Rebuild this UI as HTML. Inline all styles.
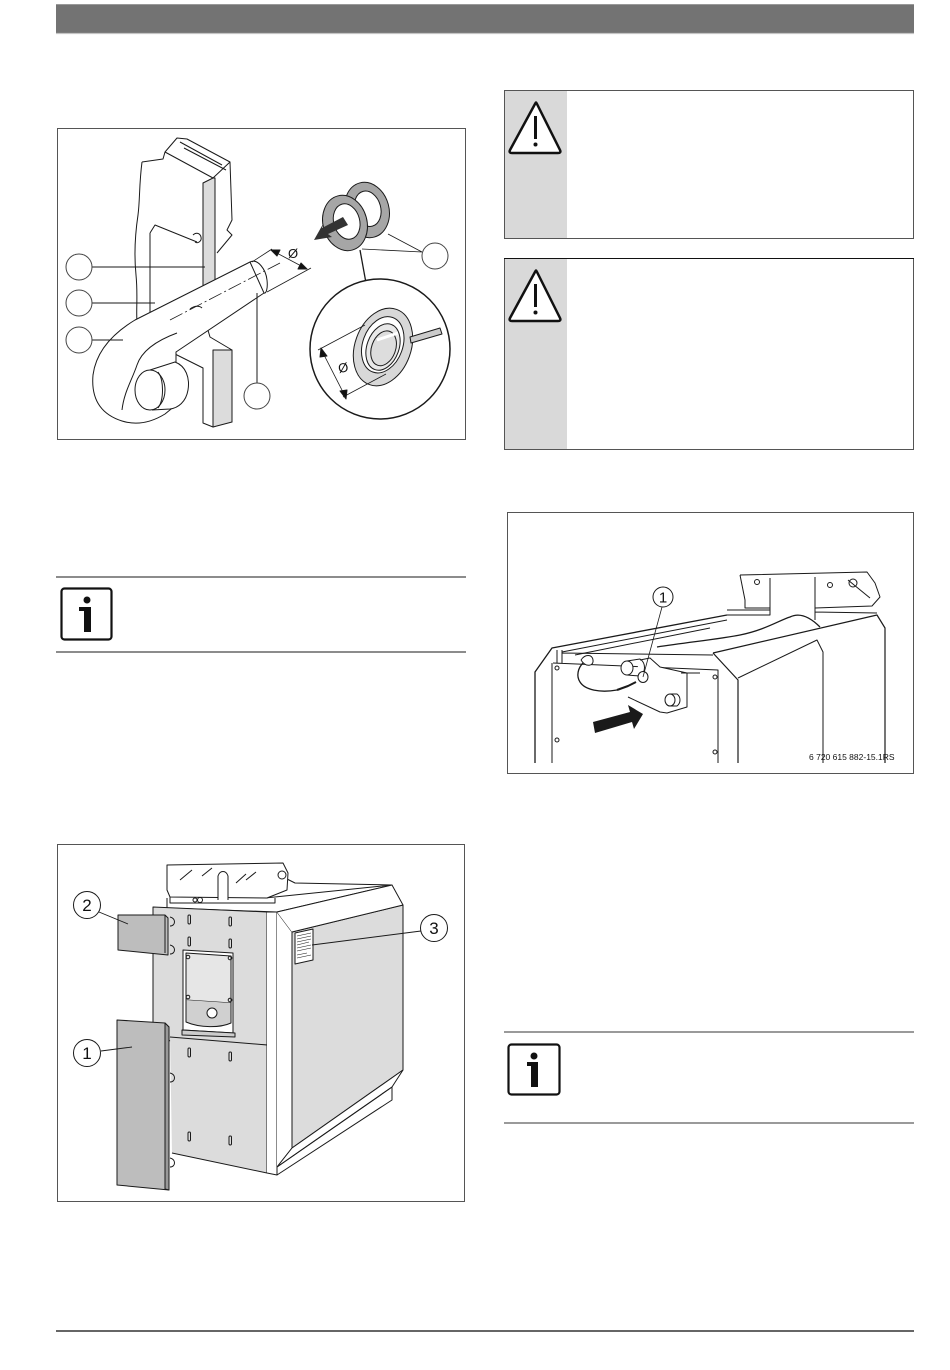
<!DOCTYPE html>
<html><head><meta charset="utf-8"><style>
html,body{margin:0;padding:0;background:#fff;}
body{width:950px;height:1370px;position:relative;overflow:hidden;font-family:"Liberation Sans",sans-serif;}
svg{position:absolute;left:0;top:0;}
</style></head><body>
<svg width="950" height="1370" viewBox="0 0 950 1370" xmlns="http://www.w3.org/2000/svg" font-family="Liberation Sans, sans-serif">
<!-- header -->
<rect x="56" y="4" width="858" height="29" fill="#737373"/>
<line x1="56" y1="4.5" x2="914" y2="4.5" stroke="#999" stroke-width="1"/>
<line x1="56" y1="33.5" x2="914" y2="33.5" stroke="#c4c4c4" stroke-width="1.2"/>
<!-- footer -->
<line x1="56" y1="1331" x2="914" y2="1331" stroke="#666" stroke-width="2"/>

<!-- FIGURE 1 -->
<rect x="57.5" y="128.5" width="408" height="311" fill="#fff" stroke="#555" stroke-width="1"/>
<g stroke="#1a1a1a" stroke-width="1" fill="none" stroke-linejoin="round">
  <!-- bracket -->
  <path d="M142,162 C139,185 140,200 138,215 C135,235 134,255 136,275 C138,295 136,310 137,322" />
  <path d="M142,162 L163,159 L165,152 L177,138 L187,139 L230,162 L232,220 L227,230 L232,235 L217,253" fill="#fff"/>
  <path d="M165,152 L213,178 L230,162"/>
  <path d="M180,142 L222,165 M184,148 L226,170"/>
  <path d="M203,183 L213,178 L215,178 L215,283 L203,289 Z" fill="#dcdcdc"/>
  <path d="M150,233 L155,225 L197,242 M150,233 L150,318"/>
  <path d="M193,235 C196,232 200,233 201,237 C202,241 198,244 195,242"/>
  <!-- lower bracket -->
  <path d="M173,353 L203,368 L203,423 L213,427 L227,422 L232,422 L232,350 L210,337 L207,327 L203,330" fill="#fff"/>
  <path d="M213,350 L232,350 L232,422 L213,427 Z" fill="#dcdcdc"/>
  <!-- arm -->
  <path d="M250,262 L135,320 C112,334 96,352 93,375 C91,398 100,414 122,421 C138,426 152,422 165,414 L176,405 L176,352 L264,293 Z" fill="#fff"/>
  <path d="M177,333 C158,340 142,350 137,365 C132,380 124,392 122,410"/>
  <path d="M190,309 C195,305 200,306 202,308" />
  <!-- tube end -->
  <path d="M250,262 C258,258 266,270 267,280 C268,289 266,294 264,293"/>
  <!-- knob -->
  <path d="M150,370 L175,362 C186,366 190,378 188,390 C186,402 178,408 170,409 L152,410" fill="#fff"/>
  <ellipse cx="150" cy="390" rx="15" ry="20" fill="#fff"/>
  <path d="M158,372 C164,380 164,400 158,408"/>
  <!-- centerline -->
  <path d="M170,320 L280,263" stroke-dasharray="14,3,2,3" stroke-width="0.8"/>
  <!-- dimension -->
  <path d="M252,262 L272,249 M267,292 L311,268" stroke-width="0.8"/>
  <path d="M273,251 L305,268" stroke-width="0.8"/>
  <path d="M271,250 L280,250 L277,256 Z M307,269 L298,269 L301,263 Z" fill="#111"/>
  <!-- leaders -->
  <path d="M92,267 L205,267 M92,303 L155,303 M92,340 L123,340 M257,383 L257,293"/>
  <circle cx="79" cy="267" r="13" fill="#fff" stroke="#444"/>
  <circle cx="79" cy="303" r="13" fill="#fff" stroke="#444"/>
  <circle cx="79" cy="340" r="13" fill="#fff" stroke="#444"/>
  <circle cx="257" cy="396" r="13" fill="#fff" stroke="#444"/>
  <!-- rings -->
  <g transform="rotate(-15 367 210)">
    <ellipse cx="367" cy="210" rx="22" ry="28" fill="#a6a6a6"/>
    <ellipse cx="368" cy="209" rx="13" ry="18" fill="#fff"/>
  </g>
  <g transform="rotate(-15 345 223)">
    <ellipse cx="345" cy="223" rx="22" ry="28" fill="#a6a6a6"/>
    <ellipse cx="347" cy="222" rx="13" ry="18" fill="#fff"/>
  </g>
  <path d="M343,217 L322,228 L323,224 L314,240 L332,237 L328,234 L348,225 Z" fill="#333" stroke="none"/>
  <path d="M362,249 L422,252 M388,234 L422,252" stroke-width="0.8"/>
  <circle cx="435" cy="256" r="13" fill="#fff" stroke="#444"/>
  <path d="M360,250 L366,283" stroke-width="1.3"/>
  <!-- magnifier -->
  <circle cx="380" cy="349" r="70" fill="#fff" stroke-width="1.5"/>
  <g transform="rotate(20 383 347)">
    <ellipse cx="383" cy="347" rx="28" ry="40" fill="#d8d8d8"/>
    <ellipse cx="382" cy="345" rx="20" ry="29" fill="#fff"/>
    <ellipse cx="383" cy="347" rx="16" ry="24" fill="#e8e8e8"/>
    <ellipse cx="384" cy="348" rx="12" ry="18" fill="#ddd"/>
  </g>
  <path d="M410,337 L440,328 L442,334 L411,343 Z" fill="#ccc"/>
  <path d="M377,340 L398,333" stroke-width="3" stroke="#fff"/>
  <path d="M318,350 L365,325 M343,397 L386,374" stroke-width="0.8"/>
  <path d="M322,351 L345,396" stroke-width="0.8"/>
  <path d="M321,348 L327,356 L320,357 Z M346,399 L340,391 L347,390 Z" fill="#111"/>
</g>
<text x="288" y="258" font-size="13" fill="#111">Ø</text>
<text x="338" y="372" font-size="13" fill="#111" transform="rotate(-10 344 367)">Ø</text>

<!-- WARNING BOXES -->
<rect x="504.5" y="90.5" width="409" height="148" fill="#fff" stroke="#555"/>
<rect x="505" y="91" width="62" height="147" fill="#d9d9d9"/>
<path d="M535,104 L510,150 C509,152 510,153 512,153 L558,153 C560,153 561,152 560,150 L537,104 C536,102 536,102 535,104 Z" fill="#fff" stroke="#111" stroke-width="2.5" stroke-linejoin="round"/>
<line x1="535.5" y1="116" x2="535.5" y2="139" stroke="#111" stroke-width="3"/>
<circle cx="535.5" cy="144.5" r="2" fill="#111"/>

<rect x="504.5" y="258.5" width="409" height="191" fill="#fff" stroke="#555"/>
<line x1="504" y1="258.5" x2="914" y2="258.5" stroke="#111"/>
<rect x="505" y="259" width="62" height="190" fill="#d9d9d9"/>
<path d="M535,272 L510,318 C509,320 510,321 512,321 L558,321 C560,321 561,320 560,318 L537,272 C536,270 536,270 535,272 Z" fill="#fff" stroke="#111" stroke-width="2.5" stroke-linejoin="round"/>
<line x1="535.5" y1="284" x2="535.5" y2="307" stroke="#111" stroke-width="3"/>
<circle cx="535.5" cy="312.5" r="2" fill="#111"/>

<!-- INFO BOX 1 -->
<line x1="56" y1="577" x2="466" y2="577" stroke="#666" stroke-width="1.5"/>
<line x1="56" y1="652" x2="466" y2="652" stroke="#666" stroke-width="1.5"/>
<rect x="61.5" y="588.5" width="50" height="51" rx="3" fill="#fff" stroke="#111" stroke-width="2.2"/>
<circle cx="87" cy="600" r="3.5" fill="#111"/>
<path d="M79,607 L91,607 L91,632 L84,632 L84,611 L79,611 Z" fill="#111"/>

<!-- FIGURE 2 -->
<rect x="507.5" y="512.5" width="406" height="261" fill="#fff" stroke="#555"/>
<g stroke="#1a1a1a" stroke-width="1" fill="none" stroke-linejoin="round">
  <path d="M535,763 L535,672 L552,648 L727,615" stroke-width="1.3"/>
  <path d="M562,652 L727,620 M575,655 L710,628"/>
  <path d="M552,663 L552,763 M553,663 L718,670 L718,763 M562,653 L713,655 M557,650 L557,663 M562,650 L562,663"/>
  <path d="M713,653 L738,680 L738,763 M713,653 L877,615 L885,628 L885,763" stroke-width="1.2"/>
  <path d="M738,678 L817,640 L823,652 L823,763"/>
  <!-- hood -->
  <path d="M740,575 L867,572 L875,583 L880,597 L872,606 L815,608 M740,575 L745,600 L745,608 L770,608 M770,578 L770,615 M815,577 L815,620 M727,610 L770,610 L770,615 L727,615 M815,612 L877,613"/>
  <circle cx="757" cy="582" r="2.5"/>
  <circle cx="830" cy="585" r="2.5"/>
  <circle cx="853" cy="583" r="4"/>
  <path d="M848,580 L870,598"/>
  <!-- cable -->
  <path d="M583,663 C578,668 576,676 580,682 C585,690 600,693 617,690" stroke-width="1.3"/>
  <path d="M657,647 C690,642 720,639 740,635 C765,630 780,620 790,617 C800,612 810,617 820,627" stroke-width="1.3"/>
  <path d="M581,660 C585,654 592,654 593,660 C594,666 586,668 581,660" fill="#fff"/>
  <!-- fittings -->
  <path d="M628,697 L660,712 L667,713 L687,707 L687,673 L660,667 L650,658 L640,660" fill="#fff"/>
  <ellipse cx="627" cy="668" rx="6" ry="7" fill="#fff"/>
  <path d="M627,661 L640,659 C646,663 646,672 640,676 L627,675"/>
  <ellipse cx="643" cy="677" rx="5" ry="5.5" fill="#fff"/>
  <path d="M617,690 L628,686 L636,682" stroke-width="2"/>
  <ellipse cx="670" cy="700" rx="5" ry="6" fill="#fff"/>
  <path d="M670,694 L677,694 C681,697 681,703 677,706 L670,706"/>
  <path d="M681,673 L700,673"/>
  <circle cx="557" cy="668" r="2"/><circle cx="557" cy="740" r="2"/>
  <circle cx="715" cy="677" r="2"/><circle cx="715" cy="752" r="2"/>
  <!-- callout -->
  <path d="M662,607 L643,677" stroke-width="0.8"/>
  <circle cx="663" cy="597" r="10" fill="#fff"/>
</g>
<path d="M593,722 L630,712 L628,705 L643,714 L634,729 L632,722 L595,733 Z" fill="#1a1a1a"/>
<text x="663" y="602.5" font-size="15" text-anchor="middle" fill="#111">1</text>
<text x="809" y="760" font-size="8.5" fill="#111">6 720 615 882-15.1RS</text>

<!-- FIGURE 3 -->
<rect x="57.5" y="844.5" width="407" height="357" fill="#fff" stroke="#555"/>
<g stroke="#1a1a1a" stroke-width="1" fill="none" stroke-linejoin="round">
  <!-- top surface -->
  <path d="M167,898 L167,908 L277,912 L392,885 L295,883 L283,877" fill="#fff"/>
  <path d="M265,898 L392,885"/>
  <!-- hood -->
  <path d="M167,865 L283,863 L288,873 L287,890 L267,898 L170,897 L167,890 Z" fill="#fff"/>
  <path d="M170,897 L170,903 L275,903 L275,898"/>
  <path d="M180,880 L192,870 M202,876 L212,868 M236,883 L246,874 M246,880 L256,872"/>
  <path d="M218,900 L218,876 C220,870 226,870 228,876 L228,900" fill="#fff"/>
  <circle cx="282" cy="875" r="4"/>
  <circle cx="200" cy="900" r="2.5"/><circle cx="195" cy="900" r="2"/>
  <!-- front panels -->
  <path d="M153,907 L267,912 L267,1045 L153,1040 Z" fill="#dcdcdc"/>
  <path d="M170,1037 L267,1045 L267,1173 L172,1153" fill="#dcdcdc"/>
  <path d="M267,912 L277,912 L277,1175 L267,1173" fill="#fff"/>
  <path d="M277,912 L292,932 L292,1148 L277,1167" fill="#fff"/>
  <path d="M292,932 L403,905 L403,1070 L292,1148 Z" fill="#dcdcdc"/>
  <path d="M277,912 L392,885 L403,905 L292,932" fill="#fff"/>
  <path d="M277,1167 L292,1148 L403,1070 L392,1087 Z" fill="#fff"/>
  <path d="M277,1167 L392,1087 L392,1100 L277,1175"/>
  <!-- control window -->
  <path d="M183,950 L233,953 L233,1033 L183,1030 Z" fill="#fff"/>
  <path d="M186,953 L231,956 L231,1003 L186,1000 Z" fill="#e6e6e6"/>
  <path d="M186,1000 L186,1022 C200,1028 220,1028 231,1023 L231,1003" fill="#d0d0d0"/>
  <circle cx="212" cy="1013" r="5" fill="#fff"/>
  <path d="M182,1030 L235,1033 L235,1037 L182,1035 Z" fill="#ccc"/>
  <circle cx="188" cy="957" r="1.8"/><circle cx="230" cy="958" r="1.8"/>
  <circle cx="188" cy="997" r="1.8"/><circle cx="230" cy="1000" r="1.8"/>
  <!-- slots -->
  <rect x="188" y="915" width="2.5" height="9" rx="1.2"/><rect x="229" y="917" width="2.5" height="9" rx="1.2"/>
  <rect x="188" y="937" width="2.5" height="9" rx="1.2"/><rect x="229" y="939" width="2.5" height="9" rx="1.2"/>
  <rect x="188" y="1048" width="2.5" height="9" rx="1.2"/><rect x="229" y="1052" width="2.5" height="9" rx="1.2"/>
  <rect x="188" y="1132" width="2.5" height="9" rx="1.2"/><rect x="229" y="1136" width="2.5" height="9" rx="1.2"/>
  <path d="M170,917 C176,918 176,926 170,926 M170,945 C176,946 176,954 170,954 M170,1073 C176,1074 176,1082 170,1082 M170,1158 C176,1159 176,1167 170,1167"/>
  <!-- label plate -->
  <path d="M295,933 L313,929 L313,960 L295,964 Z" fill="#fff"/>
  <path d="M297,936 L311,933 M297,939 L311,936 M297,942 L311,939 M297,945 L309,942 M297,948 L311,945 M297,951 L311,948 M297,955 L307,953 M297,958 L311,955" stroke-width="0.6"/>
  <!-- panel 2 -->
  <path d="M118,915 L165,915 L168,918 L168,955 L118,950 Z" fill="#bdbdbd"/>
  <path d="M165,915 L165,953"/>
  <!-- panel 1 -->
  <path d="M117,1020 L165,1023 L169,1027 L169,1190 L117,1185 Z" fill="#bdbdbd"/>
  <path d="M165,1023 L165,1189" />
  <path d="M165,1023 L169,1027 L169,1190 L165,1189 Z" fill="#999"/>
  <!-- leaders -->
  <path d="M99,912 L128,924 M101,1051 L132,1047 M421,931 L312,945" stroke-width="0.9"/>
  <circle cx="87" cy="905" r="13.5" fill="#fff"/>
  <circle cx="87" cy="1053" r="13.5" fill="#fff"/>
  <circle cx="434" cy="928" r="13.5" fill="#fff"/>
</g>
<text x="87" y="911" font-size="17" text-anchor="middle" fill="#111">2</text>
<text x="87" y="1059" font-size="17" text-anchor="middle" fill="#111">1</text>
<text x="434" y="934" font-size="17" text-anchor="middle" fill="#111">3</text>

<!-- INFO BOX 2 -->
<line x1="504" y1="1032" x2="914" y2="1032" stroke="#9a9a9a" stroke-width="2"/>
<line x1="504" y1="1123" x2="914" y2="1123" stroke="#9a9a9a" stroke-width="2"/>
<rect x="508.5" y="1044.5" width="51" height="50" rx="3" fill="#fff" stroke="#111" stroke-width="2.2"/>
<circle cx="534" cy="1056" r="3.5" fill="#111"/>
<path d="M527,1062 L538,1062 L538,1087 L531,1087 L531,1066 L527,1066 Z" fill="#111"/>
</svg>
</body></html>
